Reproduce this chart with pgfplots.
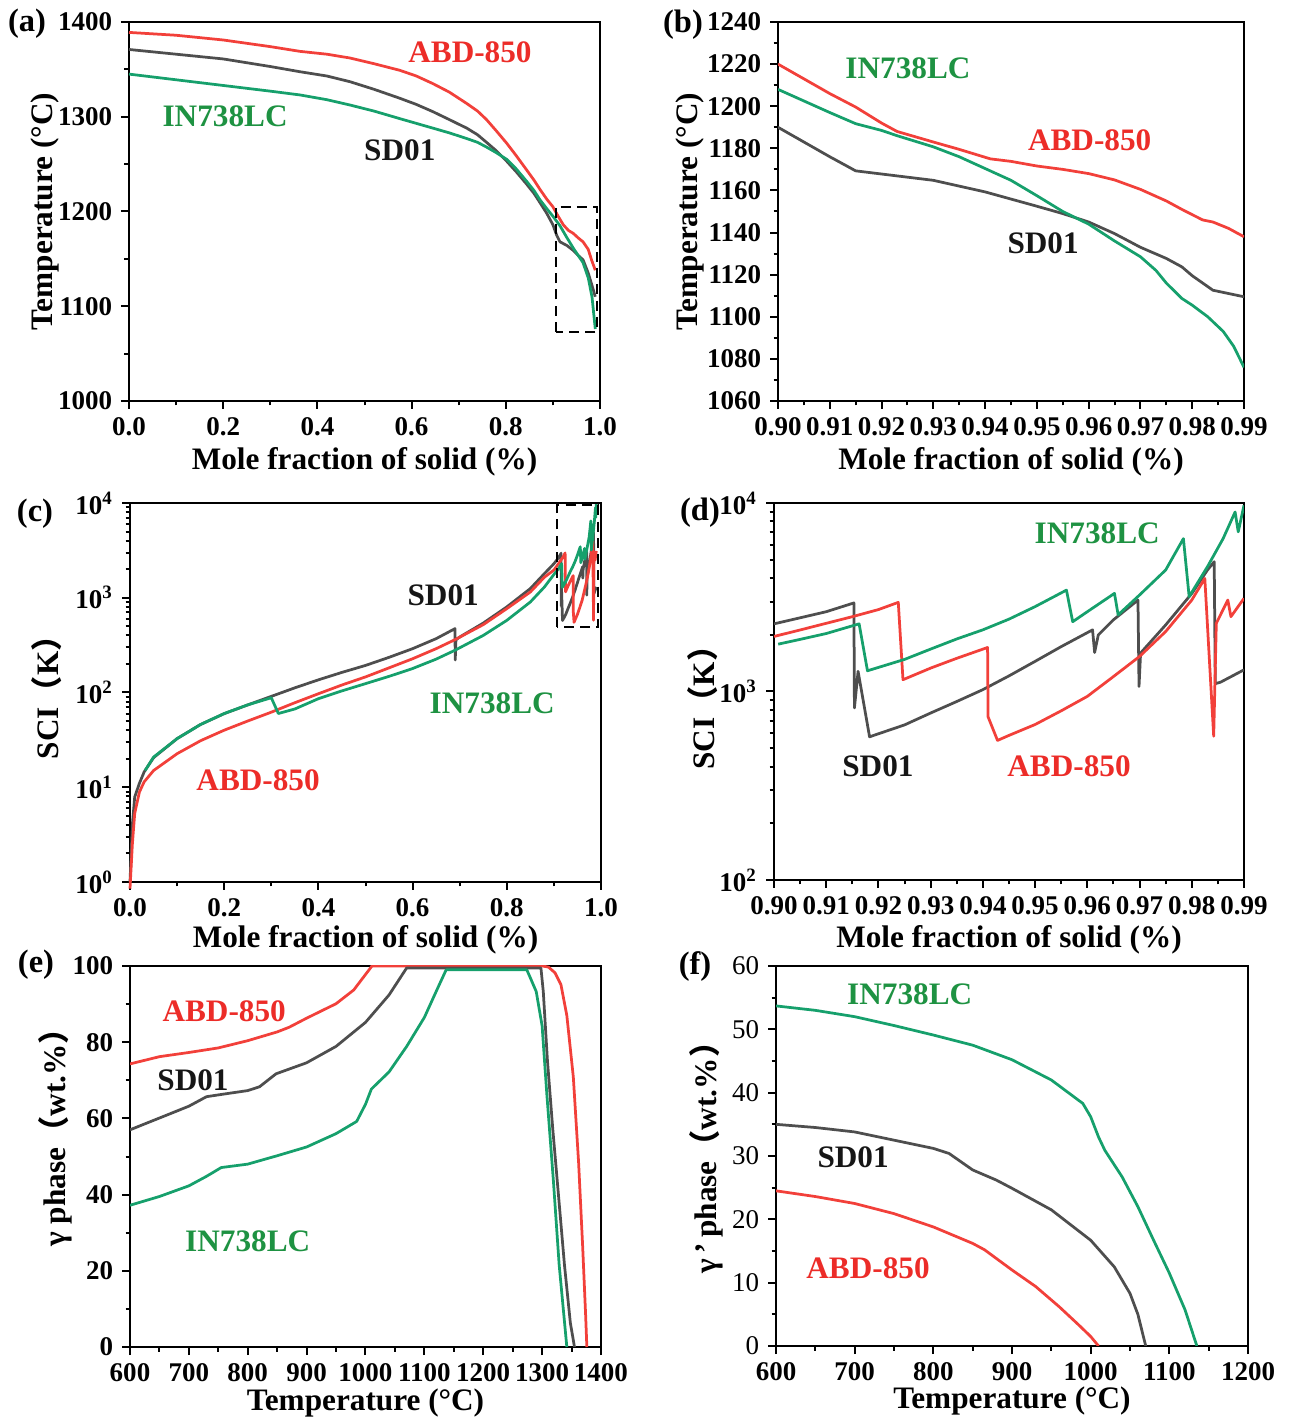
\documentclass[border=0pt]{standalone}
\usepackage{pgfplots}
\pgfplotsset{compat=1.18}
\usepackage{fontspec}
\setmainfont{Liberation Serif}
\newfontfamily\cjk{Noto Sans CJK SC}

\definecolor{abd}{RGB}{242,64,58}
\definecolor{sdc}{RGB}{78,78,78}
\definecolor{inc}{RGB}{22,160,108}
\definecolor{abdtxt}{RGB}{236,44,40}
\definecolor{inctxt}{RGB}{30,146,66}
\definecolor{sdtxt}{RGB}{22,22,22}

\newcommand{\lblfont}{\fontsize{12.5}{14}\selectfont\bfseries}
\newcommand{\tagfont}{\fontsize{13}{15}\selectfont\bfseries}

\tikzset{zoombox/.style={dash pattern=on 4pt off 2.5pt, line width=0.8pt, black}}

\pgfplotsset{
  panel/.style={
    scale only axis,
    anchor=south west,
    axis line style={line width=0.8pt},
    tick align=outside,
    xtick pos=left, ytick pos=left,
    major tick length=3.2pt, minor tick length=1.8pt,
    tick style={line width=0.8pt, black},
    tick label style={font=\fontsize{10.8}{12}\selectfont\bfseries},
    label style={font=\lblfont},
    /pgf/number format/assume math mode=true,
    /pgf/number format/1000 sep={},
    every axis plot/.append style={line width=1.1pt, line join=round, no markers},
  },
  xlab/.style={xlabel style={at={(axis description cs:0.5,#1)}, anchor=center}},
  ylab/.style 2 args={ylabel style={at={(axis description cs:#1,#2)}, anchor=center, rotate=0}},
}

\begin{document}
\begin{tikzpicture}
\useasboundingbox (0pt,0pt) rectangle (516.8pt,567.6pt);

% ---------------- (a) liquidus-solidus curves ----------------
\begin{axis}[panel, at={(51.6pt,407.2pt)}, width=188.4pt, height=151.6pt,
  xmin=0, xmax=1, ymin=1000, ymax=1400,
  xtick={0,0.2,...,1.0}, ytick={1000,1100,...,1400},
  minor x tick num=1, minor y tick num=1,
  xticklabel style={/pgf/number format/.cd, fixed, fixed zerofill, precision=1},
  xlabel={Mole fraction of solid (\%)}, ylabel={Temperature (°C)},
  xlab=-0.161, ylab={-0.178}{0.5}]
\addplot[abd] coordinates {(0,1389)(0.1,1386)(0.2,1381)(0.3,1374)(0.363,1369)(0.42,1366)(0.469,1362)(0.52,1356)(0.575,1349)(0.61,1343)(0.645,1335)(0.68,1326)(0.717,1314)(0.74,1306)(0.759,1297)(0.78,1285)(0.802,1272)(0.822,1259)(0.844,1244)(0.86,1233)(0.873,1223)(0.887,1213)(0.9,1205)(0.91,1196)(0.922,1186)(0.933,1180)(0.943,1177)(0.954,1172)(0.964,1168)(0.975,1160)(0.982,1149)(0.99,1138)};
\addplot[sdc] coordinates {(0,1371)(0.1,1366)(0.2,1361)(0.3,1353)(0.363,1347.5)(0.42,1343)(0.469,1337)(0.52,1329)(0.575,1319.5)(0.61,1313)(0.645,1305.4)(0.68,1297)(0.717,1288)(0.74,1281)(0.759,1273)(0.78,1264)(0.802,1253)(0.822,1242)(0.844,1229)(0.86,1219)(0.873,1209)(0.887,1198)(0.9,1186)(0.908,1175)(0.915,1168)(0.93,1164)(0.943,1159)(0.955,1153)(0.964,1149)(0.975,1135)(0.983,1122)(0.99,1110)};
\addplot[inc] coordinates {(0,1345)(0.1,1339)(0.2,1333)(0.3,1327)(0.363,1323)(0.42,1318)(0.469,1312.4)(0.52,1306)(0.575,1298)(0.61,1293)(0.645,1288)(0.68,1283)(0.717,1277)(0.74,1273)(0.759,1268)(0.78,1262)(0.802,1255)(0.822,1245)(0.844,1232)(0.86,1222)(0.873,1212)(0.887,1203)(0.9,1195)(0.915,1185)(0.929,1173)(0.945,1160)(0.964,1146)(0.975,1130)(0.983,1110)(0.99,1076)};
\draw[zoombox] (axis cs:0.906,1073) rectangle (axis cs:0.993,1205);
\node[font=\lblfont, text=abdtxt] at (axis cs:0.724,1368) {ABD-850};
\node[font=\lblfont, text=inctxt] at (axis cs:0.204,1300) {IN738LC};
\node[font=\lblfont, text=sdtxt] at (axis cs:0.575,1265) {SD01};
\end{axis}

% ---------------- (b) zoom of the final stage ----------------
\begin{axis}[panel, at={(311.2pt,407.2pt)}, width=186.4pt, height=151.6pt,
  xmin=0.90, xmax=0.99, ymin=1060, ymax=1240,
  xtick={0.90,0.91,...,0.995}, ytick={1060,1080,...,1240},
  minor x tick num=1, minor y tick num=1,
  xticklabel style={/pgf/number format/.cd, fixed, fixed zerofill, precision=2},
  xlabel={Mole fraction of solid (\%)}, ylabel={Temperature (°C)},
  xlab=-0.161, ylab={-0.189}{0.5}]
\addplot[abd] coordinates {(0.900,1220)(0.905,1213)(0.910,1206)(0.915,1199.6)(0.920,1192)(0.923,1188)(0.930,1183)(0.935,1179.5)(0.941,1175)(0.945,1173.8)(0.950,1171.6)(0.955,1170)(0.960,1168)(0.965,1165)(0.970,1160.5)(0.975,1155)(0.978,1151)(0.982,1146)(0.984,1145)(0.987,1142)(0.990,1138)};
\addplot[sdc] coordinates {(0.900,1190)(0.905,1183)(0.910,1176)(0.915,1169.3)(0.920,1167.8)(0.930,1164.8)(0.940,1159.3)(0.950,1152.5)(0.955,1149)(0.960,1145)(0.965,1139.5)(0.970,1133)(0.975,1127.7)(0.978,1123.7)(0.980,1119.5)(0.984,1112.6)(0.990,1109.5)};
\addplot[inc] coordinates {(0.900,1208)(0.905,1202.5)(0.910,1197)(0.915,1191.7)(0.920,1188.5)(0.923,1186)(0.930,1180.7)(0.935,1176)(0.940,1170.4)(0.945,1164.8)(0.950,1157.5)(0.955,1150)(0.960,1144)(0.965,1136)(0.970,1128.5)(0.973,1122)(0.975,1116)(0.978,1108.7)(0.980,1105.5)(0.983,1100)(0.986,1093)(0.988,1086)(0.990,1076)};
\node[font=\lblfont, text=inctxt] at (axis cs:0.9251,1218) {IN738LC};
\node[font=\lblfont, text=abdtxt] at (axis cs:0.9602,1184) {ABD-850};
\node[font=\lblfont, text=sdtxt] at (axis cs:0.9512,1135) {SD01};
\end{axis}

% ---------------- (c) SCI over the whole range ----------------
\begin{axis}[panel, at={(52pt,214.8pt)}, width=188.4pt, height=151.6pt, clip=false,
  ymode=log, xmin=0, xmax=1, ymin=1, ymax=10000,
  xtick={0,0.2,...,1.0}, minor x tick num=1,
  ytick={1,10,100,1000,10000},
  yticklabels={10\textsuperscript{0},10\textsuperscript{1},10\textsuperscript{2},10\textsuperscript{3},10\textsuperscript{4}},
  minor ytick={2,3,4,5,6,7,8,9,20,30,40,50,60,70,80,90,200,300,400,500,600,700,800,900,2000,3000,4000,5000,6000,7000,8000,9000},
  xticklabel style={/pgf/number format/.cd, fixed, fixed zerofill, precision=1},
  xlabel={Mole fraction of solid (\%)}, ylabel={SCI{\cjk （}K{\cjk ）}},
  xlab=-0.153, ylab={-0.176}{0.507}]
\addplot[sdc] coordinates {(0,1)(0.005,4)(0.01,7.9)(0.02,11)(0.03,14.5)(0.05,20.5)(0.1,32.6)(0.15,46)(0.2,59.8)(0.25,74)(0.3,91)(0.35,112)(0.4,136)(0.45,163)(0.5,193)(0.55,235)(0.6,290)(0.65,370)(0.69,472)(0.6905,220)(0.692,360)(0.7,385)(0.75,540)(0.8,800)(0.85,1250)(0.88,1800)
 (0.900,2285)(0.905,2460)(0.910,2650)(0.9153,2950)(0.9154,818)(0.9161,1279)(0.9183,575)(0.925,665)(0.930,769)(0.935,885)(0.940,1023)(0.945,1210)(0.950,1445)(0.955,1730)(0.9610,2123)(0.9614,1611)(0.9621,1995)(0.965,2400)(0.9697,3055)(0.9699,1064)(0.9702,1600)(0.975,2254)(0.980,3310)(0.983,4408)(0.9843,4880)(0.9845,1100)(0.9855,1120)(0.990,1303)};
\addplot[abd] coordinates {(0,0.85)(0.005,2.5)(0.01,5.3)(0.02,8.9)(0.03,11.4)(0.05,15)(0.1,22.6)(0.15,31)(0.2,40)(0.25,50)(0.3,62)(0.35,78)(0.4,97)(0.45,120)(0.5,146)(0.55,182)(0.6,227)(0.65,290)(0.69,361)(0.75,520)(0.8,767)(0.85,1150)(0.88,1650)
 (0.900,1959)(0.905,2120)(0.910,2300)(0.915,2494)(0.920,2720)(0.9238,2970)(0.9247,1155)(0.930,1331)(0.935,1500)(0.9409,1712)(0.9410,733)(0.9428,550)(0.945,585)(0.950,668)(0.955,790)(0.960,942)(0.965,1200)(0.970,1534)(0.975,2080)(0.980,3055)(0.9825,3980)(0.9842,579)(0.9847,2300)(0.9869,3055)(0.9875,2494)(0.990,3120)};
\addplot[inc] coordinates {(0.032,15)(0.05,20.8)(0.1,32.6)(0.15,46)(0.2,60)(0.25,74)(0.3,88)(0.315,60)(0.35,67)(0.4,86)(0.45,104)(0.5,124)(0.55,148)(0.6,179)(0.65,225)(0.69,279)(0.75,400)(0.8,577)(0.85,902)(0.88,1300)
 (0.9008,1783)(0.905,1890)(0.910,2030)(0.9163,2285)(0.9179,1288)(0.925,1480)(0.930,1679)(0.935,1900)(0.940,2124)(0.945,2420)(0.950,2820)(0.9560,3450)(0.9572,2345)(0.960,2650)(0.9652,3315)(0.9659,2550)(0.970,3250)(0.975,4410)(0.9784,6470)(0.9795,3186)(0.983,4590)(0.986,6470)(0.9883,8960)(0.9889,7030)(0.990,9720)};
\draw[zoombox] (axis cs:0.907,492) rectangle (axis cs:0.994,9440);
\node[font=\lblfont, text=sdtxt] at (axis cs:0.665,1070) {SD01};
\node[font=\lblfont, text=inctxt] at (axis cs:0.769,77) {IN738LC};
\node[font=\lblfont, text=abdtxt] at (axis cs:0.272,11.9) {ABD-850};
\end{axis}

% ---------------- (d) SCI, final stage ----------------
\begin{axis}[panel, at={(309.6pt,215.6pt)}, width=188pt, height=150.8pt,
  ymode=log, xmin=0.90, xmax=0.99, ymin=100, ymax=10000,
  xtick={0.90,0.91,...,0.995}, minor x tick num=1,
  ytick={100,1000,10000}, minor ytick={},
  yticklabels={10\textsuperscript{2},10\textsuperscript{3},10\textsuperscript{4}},
  xticklabel style={/pgf/number format/.cd, fixed, fixed zerofill, precision=2},
  xlabel={Mole fraction of solid (\%)}, ylabel={SCI{\cjk （}K{\cjk ）}},
  xlab=-0.159, ylab={-0.151}{0.477}]
\addplot[sdc] coordinates {(0.900,2285)(0.905,2460)(0.910,2650)(0.9153,2950)(0.9154,818)(0.9161,1279)(0.9183,575)(0.925,665)(0.930,769)(0.935,885)(0.940,1023)(0.945,1210)(0.950,1445)(0.955,1730)(0.9610,2123)(0.9614,1611)(0.9621,1995)(0.965,2400)(0.9697,3055)(0.9699,1064)(0.9702,1600)(0.975,2254)(0.980,3310)(0.983,4408)(0.9843,4880)(0.9845,1100)(0.9855,1120)(0.990,1303)};
\addplot[abd] coordinates {(0.900,1959)(0.905,2120)(0.910,2300)(0.915,2494)(0.920,2720)(0.9238,2970)(0.9247,1155)(0.930,1331)(0.935,1500)(0.9409,1712)(0.9410,733)(0.9428,550)(0.945,585)(0.950,668)(0.955,790)(0.960,942)(0.965,1200)(0.970,1534)(0.975,2080)(0.980,3055)(0.9825,3980)(0.9842,579)(0.9847,2300)(0.9869,3055)(0.9875,2494)(0.990,3120)};
\addplot[inc] coordinates {(0.9008,1783)(0.905,1890)(0.910,2030)(0.9163,2285)(0.9179,1288)(0.925,1480)(0.930,1679)(0.935,1900)(0.940,2124)(0.945,2420)(0.950,2820)(0.9560,3450)(0.9572,2345)(0.960,2650)(0.9652,3315)(0.9659,2550)(0.970,3250)(0.975,4410)(0.9784,6470)(0.9795,3186)(0.983,4590)(0.986,6470)(0.9883,8960)(0.9889,7030)(0.990,9720)};
\node[font=\lblfont, text=inctxt] at (axis cs:0.9619,6920) {IN738LC};
\node[font=\lblfont, text=sdtxt] at (axis cs:0.9199,403) {SD01};
\node[font=\lblfont, text=abdtxt] at (axis cs:0.9565,403) {ABD-850};
\end{axis}

% ---------------- (e) gamma phase fraction ----------------
\begin{axis}[panel, at={(52pt,28.8pt)}, width=188.4pt, height=152.4pt,
  xmin=600, xmax=1400, ymin=0, ymax=100,
  xtick={600,700,...,1400}, ytick={0,20,...,100},
  minor x tick num=1, minor y tick num=1,
  xlabel={Temperature (°C)}, ylabel={γ phase{\cjk （}wt.\%{\cjk ）}},
  xlab=-0.148, ylab={-0.159}{0.57}]
\addplot[abd] coordinates {(600,74.3)(650,76.2)(700,77.3)(750,78.5)(800,80.4)(850,82.7)(870,83.9)(900,86.3)(950,90.1)(980,93.7)(1011,100)(1301,100)(1311,99.7)(1322,98.2)(1332,95.1)(1342,87)(1353,70.9)(1362,48.4)(1369,26)(1374,8.1)(1376,0)};
\addplot[sdc] coordinates {(600,57)(650,60.1)(700,63.2)(730,65.7)(760,66.4)(800,67.3)(820,68.3)(848,71.7)(900,74.6)(950,78.9)(1000,85.2)(1040,92.4)(1070,99.5)(1298,99.5)(1302,93.3)(1309,75.3)(1318,57.4)(1328,39.5)(1338,21.5)(1348,6.3)(1355,0)};
\addplot[inc] coordinates {(600,37.2)(650,39.5)(700,42.3)(730,44.8)(755,47.1)(800,48)(850,50.2)(900,52.5)(950,56)(985,59.2)(1000,63.7)(1010,67.7)(1040,72.2)(1070,78.9)(1100,86.5)(1120,93.3)(1137,99)(1274,99)(1280,96.9)(1290,93.3)(1300,84.3)(1308,66.4)(1319,44)(1329,21.5)(1342,0)};
\node[font=\lblfont, text=abdtxt] at (axis cs:760,88.2) {ABD-850};
\node[font=\lblfont, text=sdtxt] at (axis cs:707,70) {SD01};
\node[font=\lblfont, text=inctxt] at (axis cs:800,27.8) {IN738LC};
\end{axis}

% ---------------- (f) gamma-prime phase fraction ----------------
\begin{axis}[panel, at={(310.4pt,29.2pt)}, width=188.8pt, height=152pt,
  xmin=600, xmax=1200, ymin=0, ymax=60,
  xtick={600,700,...,1200}, ytick={0,10,...,60},
  minor x tick num=1, minor y tick num=1,
  yticklabel style={font=\fontsize{10.8}{12}\selectfont\mdseries},
  xlabel={Temperature (°C)}, ylabel={γ\,'\,phase{\cjk （}wt.\%{\cjk ）}},
  xlab=-0.146, ylab={-0.148}{0.516}]
\addplot[inc] coordinates {(600,53.7)(650,53)(700,52)(750,50.6)(800,49.1)(850,47.5)(900,45.2)(950,42)(990,38.3)(1000,36.2)(1010,33)(1018,30.9)(1040,26.7)(1060,22)(1080,16.7)(1100,11.5)(1120,5.7)(1135,0)};
\addplot[sdc] coordinates {(600,35)(650,34.5)(700,33.8)(750,32.5)(800,31.2)(820,30.4)(850,27.8)(880,26.2)(900,24.9)(950,21.5)(1000,16.7)(1030,12.5)(1050,8.3)(1060,5)(1070,0)};
\addplot[abd] coordinates {(600,24.5)(650,23.6)(700,22.5)(750,20.9)(800,18.8)(850,16.2)(865,15.2)(900,12)(930,9.4)(960,6.2)(985,3.3)(1000,1.5)(1010,0)};
\node[font=\lblfont, text=inctxt] at (axis cs:770,55.6) {IN738LC};
\node[font=\lblfont, text=sdtxt] at (axis cs:698,29.8) {SD01};
\node[font=\lblfont, text=abdtxt] at (axis cs:717,12.3) {ABD-850};
\end{axis}

% panel tags
\node[font=\tagfont] at (10.8pt,558pt) {(a)};
\node[font=\tagfont] at (273.2pt,557.6pt) {(b)};
\node[font=\tagfont] at (14pt,362pt) {(c)};
\node[font=\tagfont] at (280pt,362.4pt) {(d)};
\node[font=\tagfont] at (14.4pt,181.6pt) {(e)};
\node[font=\tagfont] at (278pt,180.8pt) {(f)};
\end{tikzpicture}
\end{document}
